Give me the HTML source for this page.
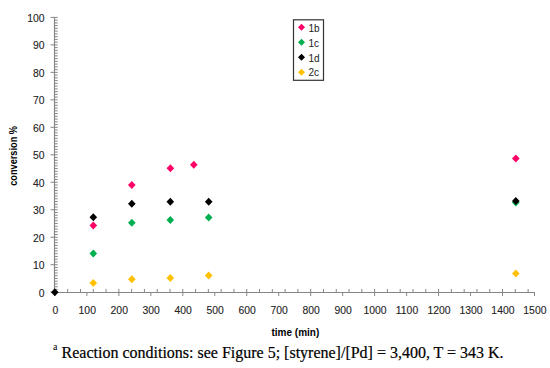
<!DOCTYPE html>
<html><head><meta charset="utf-8"><style>
html,body{margin:0;padding:0;background:#fff;}
body{width:550px;height:368px;overflow:hidden;position:relative;}
svg{position:absolute;left:0;top:0;}
.lab{font-family:"Liberation Sans",sans-serif;font-size:10.4px;fill:#222;stroke:#222;stroke-width:0.1px;}
.ttl{font-family:"Liberation Sans",sans-serif;font-size:10px;font-weight:bold;fill:#000;}
.leg{font-family:"Liberation Sans",sans-serif;font-size:10px;fill:#222;}
.fn{font-family:"Liberation Serif",serif;font-size:16px;fill:#000;stroke:#000;stroke-width:0.2px;}
.sup{font-family:"Liberation Serif",serif;font-size:10px;fill:#000;}
</style></head><body>
<svg width="550" height="368" viewBox="0 0 550 368">
<rect width="550" height="368" fill="#fff"/>
<line x1="54.5" y1="16.9" x2="54.5" y2="292.7" stroke="#868686" stroke-width="1.15"/>
<line x1="54.5" y1="292.5" x2="535.0" y2="292.5" stroke="#868686" stroke-width="1.15"/>
<line x1="54.5" y1="292.20" x2="57.70" y2="292.20" stroke="#868686" stroke-width="1"/>
<line x1="54.5" y1="289.45" x2="57.70" y2="289.45" stroke="#868686" stroke-width="1"/>
<line x1="54.5" y1="286.70" x2="57.70" y2="286.70" stroke="#868686" stroke-width="1"/>
<line x1="54.5" y1="283.96" x2="57.70" y2="283.96" stroke="#868686" stroke-width="1"/>
<line x1="54.5" y1="281.21" x2="57.70" y2="281.21" stroke="#868686" stroke-width="1"/>
<line x1="54.5" y1="278.46" x2="57.70" y2="278.46" stroke="#868686" stroke-width="1"/>
<line x1="54.5" y1="275.71" x2="57.70" y2="275.71" stroke="#868686" stroke-width="1"/>
<line x1="54.5" y1="272.96" x2="57.70" y2="272.96" stroke="#868686" stroke-width="1"/>
<line x1="54.5" y1="270.22" x2="57.70" y2="270.22" stroke="#868686" stroke-width="1"/>
<line x1="54.5" y1="267.47" x2="57.70" y2="267.47" stroke="#868686" stroke-width="1"/>
<line x1="54.5" y1="264.72" x2="57.70" y2="264.72" stroke="#868686" stroke-width="1"/>
<line x1="54.5" y1="261.97" x2="57.70" y2="261.97" stroke="#868686" stroke-width="1"/>
<line x1="54.5" y1="259.22" x2="57.70" y2="259.22" stroke="#868686" stroke-width="1"/>
<line x1="54.5" y1="256.48" x2="57.70" y2="256.48" stroke="#868686" stroke-width="1"/>
<line x1="54.5" y1="253.73" x2="57.70" y2="253.73" stroke="#868686" stroke-width="1"/>
<line x1="54.5" y1="250.98" x2="57.70" y2="250.98" stroke="#868686" stroke-width="1"/>
<line x1="54.5" y1="248.23" x2="57.70" y2="248.23" stroke="#868686" stroke-width="1"/>
<line x1="54.5" y1="245.48" x2="57.70" y2="245.48" stroke="#868686" stroke-width="1"/>
<line x1="54.5" y1="242.74" x2="57.70" y2="242.74" stroke="#868686" stroke-width="1"/>
<line x1="54.5" y1="239.99" x2="57.70" y2="239.99" stroke="#868686" stroke-width="1"/>
<line x1="54.5" y1="237.24" x2="57.70" y2="237.24" stroke="#868686" stroke-width="1"/>
<line x1="54.5" y1="234.49" x2="57.70" y2="234.49" stroke="#868686" stroke-width="1"/>
<line x1="54.5" y1="231.74" x2="57.70" y2="231.74" stroke="#868686" stroke-width="1"/>
<line x1="54.5" y1="229.00" x2="57.70" y2="229.00" stroke="#868686" stroke-width="1"/>
<line x1="54.5" y1="226.25" x2="57.70" y2="226.25" stroke="#868686" stroke-width="1"/>
<line x1="54.5" y1="223.50" x2="57.70" y2="223.50" stroke="#868686" stroke-width="1"/>
<line x1="54.5" y1="220.75" x2="57.70" y2="220.75" stroke="#868686" stroke-width="1"/>
<line x1="54.5" y1="218.00" x2="57.70" y2="218.00" stroke="#868686" stroke-width="1"/>
<line x1="54.5" y1="215.26" x2="57.70" y2="215.26" stroke="#868686" stroke-width="1"/>
<line x1="54.5" y1="212.51" x2="57.70" y2="212.51" stroke="#868686" stroke-width="1"/>
<line x1="54.5" y1="209.76" x2="57.70" y2="209.76" stroke="#868686" stroke-width="1"/>
<line x1="54.5" y1="207.01" x2="57.70" y2="207.01" stroke="#868686" stroke-width="1"/>
<line x1="54.5" y1="204.26" x2="57.70" y2="204.26" stroke="#868686" stroke-width="1"/>
<line x1="54.5" y1="201.52" x2="57.70" y2="201.52" stroke="#868686" stroke-width="1"/>
<line x1="54.5" y1="198.77" x2="57.70" y2="198.77" stroke="#868686" stroke-width="1"/>
<line x1="54.5" y1="196.02" x2="57.70" y2="196.02" stroke="#868686" stroke-width="1"/>
<line x1="54.5" y1="193.27" x2="57.70" y2="193.27" stroke="#868686" stroke-width="1"/>
<line x1="54.5" y1="190.52" x2="57.70" y2="190.52" stroke="#868686" stroke-width="1"/>
<line x1="54.5" y1="187.78" x2="57.70" y2="187.78" stroke="#868686" stroke-width="1"/>
<line x1="54.5" y1="185.03" x2="57.70" y2="185.03" stroke="#868686" stroke-width="1"/>
<line x1="54.5" y1="182.28" x2="57.70" y2="182.28" stroke="#868686" stroke-width="1"/>
<line x1="54.5" y1="179.53" x2="57.70" y2="179.53" stroke="#868686" stroke-width="1"/>
<line x1="54.5" y1="176.78" x2="57.70" y2="176.78" stroke="#868686" stroke-width="1"/>
<line x1="54.5" y1="174.04" x2="57.70" y2="174.04" stroke="#868686" stroke-width="1"/>
<line x1="54.5" y1="171.29" x2="57.70" y2="171.29" stroke="#868686" stroke-width="1"/>
<line x1="54.5" y1="168.54" x2="57.70" y2="168.54" stroke="#868686" stroke-width="1"/>
<line x1="54.5" y1="165.79" x2="57.70" y2="165.79" stroke="#868686" stroke-width="1"/>
<line x1="54.5" y1="163.04" x2="57.70" y2="163.04" stroke="#868686" stroke-width="1"/>
<line x1="54.5" y1="160.30" x2="57.70" y2="160.30" stroke="#868686" stroke-width="1"/>
<line x1="54.5" y1="157.55" x2="57.70" y2="157.55" stroke="#868686" stroke-width="1"/>
<line x1="54.5" y1="154.80" x2="57.70" y2="154.80" stroke="#868686" stroke-width="1"/>
<line x1="54.5" y1="152.05" x2="57.70" y2="152.05" stroke="#868686" stroke-width="1"/>
<line x1="54.5" y1="149.30" x2="57.70" y2="149.30" stroke="#868686" stroke-width="1"/>
<line x1="54.5" y1="146.56" x2="57.70" y2="146.56" stroke="#868686" stroke-width="1"/>
<line x1="54.5" y1="143.81" x2="57.70" y2="143.81" stroke="#868686" stroke-width="1"/>
<line x1="54.5" y1="141.06" x2="57.70" y2="141.06" stroke="#868686" stroke-width="1"/>
<line x1="54.5" y1="138.31" x2="57.70" y2="138.31" stroke="#868686" stroke-width="1"/>
<line x1="54.5" y1="135.56" x2="57.70" y2="135.56" stroke="#868686" stroke-width="1"/>
<line x1="54.5" y1="132.82" x2="57.70" y2="132.82" stroke="#868686" stroke-width="1"/>
<line x1="54.5" y1="130.07" x2="57.70" y2="130.07" stroke="#868686" stroke-width="1"/>
<line x1="54.5" y1="127.32" x2="57.70" y2="127.32" stroke="#868686" stroke-width="1"/>
<line x1="54.5" y1="124.57" x2="57.70" y2="124.57" stroke="#868686" stroke-width="1"/>
<line x1="54.5" y1="121.82" x2="57.70" y2="121.82" stroke="#868686" stroke-width="1"/>
<line x1="54.5" y1="119.08" x2="57.70" y2="119.08" stroke="#868686" stroke-width="1"/>
<line x1="54.5" y1="116.33" x2="57.70" y2="116.33" stroke="#868686" stroke-width="1"/>
<line x1="54.5" y1="113.58" x2="57.70" y2="113.58" stroke="#868686" stroke-width="1"/>
<line x1="54.5" y1="110.83" x2="57.70" y2="110.83" stroke="#868686" stroke-width="1"/>
<line x1="54.5" y1="108.08" x2="57.70" y2="108.08" stroke="#868686" stroke-width="1"/>
<line x1="54.5" y1="105.34" x2="57.70" y2="105.34" stroke="#868686" stroke-width="1"/>
<line x1="54.5" y1="102.59" x2="57.70" y2="102.59" stroke="#868686" stroke-width="1"/>
<line x1="54.5" y1="99.84" x2="57.70" y2="99.84" stroke="#868686" stroke-width="1"/>
<line x1="54.5" y1="97.09" x2="57.70" y2="97.09" stroke="#868686" stroke-width="1"/>
<line x1="54.5" y1="94.34" x2="57.70" y2="94.34" stroke="#868686" stroke-width="1"/>
<line x1="54.5" y1="91.60" x2="57.70" y2="91.60" stroke="#868686" stroke-width="1"/>
<line x1="54.5" y1="88.85" x2="57.70" y2="88.85" stroke="#868686" stroke-width="1"/>
<line x1="54.5" y1="86.10" x2="57.70" y2="86.10" stroke="#868686" stroke-width="1"/>
<line x1="54.5" y1="83.35" x2="57.70" y2="83.35" stroke="#868686" stroke-width="1"/>
<line x1="54.5" y1="80.60" x2="57.70" y2="80.60" stroke="#868686" stroke-width="1"/>
<line x1="54.5" y1="77.86" x2="57.70" y2="77.86" stroke="#868686" stroke-width="1"/>
<line x1="54.5" y1="75.11" x2="57.70" y2="75.11" stroke="#868686" stroke-width="1"/>
<line x1="54.5" y1="72.36" x2="57.70" y2="72.36" stroke="#868686" stroke-width="1"/>
<line x1="54.5" y1="69.61" x2="57.70" y2="69.61" stroke="#868686" stroke-width="1"/>
<line x1="54.5" y1="66.86" x2="57.70" y2="66.86" stroke="#868686" stroke-width="1"/>
<line x1="54.5" y1="64.12" x2="57.70" y2="64.12" stroke="#868686" stroke-width="1"/>
<line x1="54.5" y1="61.37" x2="57.70" y2="61.37" stroke="#868686" stroke-width="1"/>
<line x1="54.5" y1="58.62" x2="57.70" y2="58.62" stroke="#868686" stroke-width="1"/>
<line x1="54.5" y1="55.87" x2="57.70" y2="55.87" stroke="#868686" stroke-width="1"/>
<line x1="54.5" y1="53.12" x2="57.70" y2="53.12" stroke="#868686" stroke-width="1"/>
<line x1="54.5" y1="50.38" x2="57.70" y2="50.38" stroke="#868686" stroke-width="1"/>
<line x1="54.5" y1="47.63" x2="57.70" y2="47.63" stroke="#868686" stroke-width="1"/>
<line x1="54.5" y1="44.88" x2="57.70" y2="44.88" stroke="#868686" stroke-width="1"/>
<line x1="54.5" y1="42.13" x2="57.70" y2="42.13" stroke="#868686" stroke-width="1"/>
<line x1="54.5" y1="39.38" x2="57.70" y2="39.38" stroke="#868686" stroke-width="1"/>
<line x1="54.5" y1="36.64" x2="57.70" y2="36.64" stroke="#868686" stroke-width="1"/>
<line x1="54.5" y1="33.89" x2="57.70" y2="33.89" stroke="#868686" stroke-width="1"/>
<line x1="54.5" y1="31.14" x2="57.70" y2="31.14" stroke="#868686" stroke-width="1"/>
<line x1="54.5" y1="28.39" x2="57.70" y2="28.39" stroke="#868686" stroke-width="1"/>
<line x1="54.5" y1="25.64" x2="57.70" y2="25.64" stroke="#868686" stroke-width="1"/>
<line x1="54.5" y1="22.90" x2="57.70" y2="22.90" stroke="#868686" stroke-width="1"/>
<line x1="54.5" y1="20.15" x2="57.70" y2="20.15" stroke="#868686" stroke-width="1"/>
<line x1="54.5" y1="17.40" x2="57.70" y2="17.40" stroke="#868686" stroke-width="1"/>
<line x1="50.50" y1="292.20" x2="54.5" y2="292.20" stroke="#868686" stroke-width="1"/>
<line x1="50.50" y1="264.72" x2="54.5" y2="264.72" stroke="#868686" stroke-width="1"/>
<line x1="50.50" y1="237.24" x2="54.5" y2="237.24" stroke="#868686" stroke-width="1"/>
<line x1="50.50" y1="209.76" x2="54.5" y2="209.76" stroke="#868686" stroke-width="1"/>
<line x1="50.50" y1="182.28" x2="54.5" y2="182.28" stroke="#868686" stroke-width="1"/>
<line x1="50.50" y1="154.80" x2="54.5" y2="154.80" stroke="#868686" stroke-width="1"/>
<line x1="50.50" y1="127.32" x2="54.5" y2="127.32" stroke="#868686" stroke-width="1"/>
<line x1="50.50" y1="99.84" x2="54.5" y2="99.84" stroke="#868686" stroke-width="1"/>
<line x1="50.50" y1="72.36" x2="54.5" y2="72.36" stroke="#868686" stroke-width="1"/>
<line x1="50.50" y1="44.88" x2="54.5" y2="44.88" stroke="#868686" stroke-width="1"/>
<line x1="50.50" y1="17.40" x2="54.5" y2="17.40" stroke="#868686" stroke-width="1"/>
<line x1="67.69" y1="289.00" x2="67.69" y2="292.2" stroke="#868686" stroke-width="1"/>
<line x1="80.48" y1="289.00" x2="80.48" y2="292.2" stroke="#868686" stroke-width="1"/>
<line x1="93.27" y1="289.00" x2="93.27" y2="292.2" stroke="#868686" stroke-width="1"/>
<line x1="106.06" y1="289.00" x2="106.06" y2="292.2" stroke="#868686" stroke-width="1"/>
<line x1="118.85" y1="289.00" x2="118.85" y2="292.2" stroke="#868686" stroke-width="1"/>
<line x1="131.64" y1="289.00" x2="131.64" y2="292.2" stroke="#868686" stroke-width="1"/>
<line x1="144.43" y1="289.00" x2="144.43" y2="292.2" stroke="#868686" stroke-width="1"/>
<line x1="157.21" y1="289.00" x2="157.21" y2="292.2" stroke="#868686" stroke-width="1"/>
<line x1="170.00" y1="289.00" x2="170.00" y2="292.2" stroke="#868686" stroke-width="1"/>
<line x1="182.79" y1="289.00" x2="182.79" y2="292.2" stroke="#868686" stroke-width="1"/>
<line x1="195.58" y1="289.00" x2="195.58" y2="292.2" stroke="#868686" stroke-width="1"/>
<line x1="208.37" y1="289.00" x2="208.37" y2="292.2" stroke="#868686" stroke-width="1"/>
<line x1="221.16" y1="289.00" x2="221.16" y2="292.2" stroke="#868686" stroke-width="1"/>
<line x1="233.95" y1="289.00" x2="233.95" y2="292.2" stroke="#868686" stroke-width="1"/>
<line x1="246.74" y1="289.00" x2="246.74" y2="292.2" stroke="#868686" stroke-width="1"/>
<line x1="259.53" y1="289.00" x2="259.53" y2="292.2" stroke="#868686" stroke-width="1"/>
<line x1="272.32" y1="289.00" x2="272.32" y2="292.2" stroke="#868686" stroke-width="1"/>
<line x1="285.11" y1="289.00" x2="285.11" y2="292.2" stroke="#868686" stroke-width="1"/>
<line x1="297.90" y1="289.00" x2="297.90" y2="292.2" stroke="#868686" stroke-width="1"/>
<line x1="310.69" y1="289.00" x2="310.69" y2="292.2" stroke="#868686" stroke-width="1"/>
<line x1="323.48" y1="289.00" x2="323.48" y2="292.2" stroke="#868686" stroke-width="1"/>
<line x1="336.27" y1="289.00" x2="336.27" y2="292.2" stroke="#868686" stroke-width="1"/>
<line x1="349.05" y1="289.00" x2="349.05" y2="292.2" stroke="#868686" stroke-width="1"/>
<line x1="361.84" y1="289.00" x2="361.84" y2="292.2" stroke="#868686" stroke-width="1"/>
<line x1="374.63" y1="289.00" x2="374.63" y2="292.2" stroke="#868686" stroke-width="1"/>
<line x1="387.42" y1="289.00" x2="387.42" y2="292.2" stroke="#868686" stroke-width="1"/>
<line x1="400.21" y1="289.00" x2="400.21" y2="292.2" stroke="#868686" stroke-width="1"/>
<line x1="413.00" y1="289.00" x2="413.00" y2="292.2" stroke="#868686" stroke-width="1"/>
<line x1="425.79" y1="289.00" x2="425.79" y2="292.2" stroke="#868686" stroke-width="1"/>
<line x1="438.58" y1="289.00" x2="438.58" y2="292.2" stroke="#868686" stroke-width="1"/>
<line x1="451.37" y1="289.00" x2="451.37" y2="292.2" stroke="#868686" stroke-width="1"/>
<line x1="464.16" y1="289.00" x2="464.16" y2="292.2" stroke="#868686" stroke-width="1"/>
<line x1="476.95" y1="289.00" x2="476.95" y2="292.2" stroke="#868686" stroke-width="1"/>
<line x1="489.74" y1="289.00" x2="489.74" y2="292.2" stroke="#868686" stroke-width="1"/>
<line x1="502.53" y1="289.00" x2="502.53" y2="292.2" stroke="#868686" stroke-width="1"/>
<line x1="515.32" y1="289.00" x2="515.32" y2="292.2" stroke="#868686" stroke-width="1"/>
<line x1="528.11" y1="289.00" x2="528.11" y2="292.2" stroke="#868686" stroke-width="1"/>
<line x1="54.90" y1="292.2" x2="54.90" y2="296.00" stroke="#868686" stroke-width="1"/>
<line x1="86.87" y1="292.2" x2="86.87" y2="296.00" stroke="#868686" stroke-width="1"/>
<line x1="118.85" y1="292.2" x2="118.85" y2="296.00" stroke="#868686" stroke-width="1"/>
<line x1="150.82" y1="292.2" x2="150.82" y2="296.00" stroke="#868686" stroke-width="1"/>
<line x1="182.79" y1="292.2" x2="182.79" y2="296.00" stroke="#868686" stroke-width="1"/>
<line x1="214.77" y1="292.2" x2="214.77" y2="296.00" stroke="#868686" stroke-width="1"/>
<line x1="246.74" y1="292.2" x2="246.74" y2="296.00" stroke="#868686" stroke-width="1"/>
<line x1="278.71" y1="292.2" x2="278.71" y2="296.00" stroke="#868686" stroke-width="1"/>
<line x1="310.69" y1="292.2" x2="310.69" y2="296.00" stroke="#868686" stroke-width="1"/>
<line x1="342.66" y1="292.2" x2="342.66" y2="296.00" stroke="#868686" stroke-width="1"/>
<line x1="374.63" y1="292.2" x2="374.63" y2="296.00" stroke="#868686" stroke-width="1"/>
<line x1="406.61" y1="292.2" x2="406.61" y2="296.00" stroke="#868686" stroke-width="1"/>
<line x1="438.58" y1="292.2" x2="438.58" y2="296.00" stroke="#868686" stroke-width="1"/>
<line x1="470.55" y1="292.2" x2="470.55" y2="296.00" stroke="#868686" stroke-width="1"/>
<line x1="502.53" y1="292.2" x2="502.53" y2="296.00" stroke="#868686" stroke-width="1"/>
<line x1="534.50" y1="292.2" x2="534.50" y2="296.00" stroke="#868686" stroke-width="1"/>
<polygon points="93.30,221.61 97.10,225.60 93.30,229.59 89.50,225.60" fill="#FF0066"/>
<polygon points="131.80,180.91 135.60,184.90 131.80,188.89 128.00,184.90" fill="#FF0066"/>
<polygon points="170.40,164.31 174.20,168.30 170.40,172.29 166.60,168.30" fill="#FF0066"/>
<polygon points="193.80,160.81 197.60,164.80 193.80,168.79 190.00,164.80" fill="#FF0066"/>
<polygon points="515.80,154.51 519.60,158.50 515.80,162.49 512.00,158.50" fill="#FF0066"/>
<polygon points="93.30,249.61 97.10,253.60 93.30,257.59 89.50,253.60" fill="#00B050"/>
<polygon points="131.80,218.81 135.60,222.80 131.80,226.79 128.00,222.80" fill="#00B050"/>
<polygon points="170.30,216.01 174.10,220.00 170.30,223.99 166.50,220.00" fill="#00B050"/>
<polygon points="208.70,213.61 212.50,217.60 208.70,221.59 204.90,217.60" fill="#00B050"/>
<polygon points="515.80,198.61 519.60,202.60 515.80,206.59 512.00,202.60" fill="#00B050"/>
<polygon points="54.80,288.31 58.60,292.30 54.80,296.29 51.00,292.30" fill="#000000"/>
<polygon points="93.30,213.21 97.10,217.20 93.30,221.19 89.50,217.20" fill="#000000"/>
<polygon points="131.80,199.71 135.60,203.70 131.80,207.69 128.00,203.70" fill="#000000"/>
<polygon points="170.30,197.71 174.10,201.70 170.30,205.69 166.50,201.70" fill="#000000"/>
<polygon points="208.70,197.71 212.50,201.70 208.70,205.69 204.90,201.70" fill="#000000"/>
<polygon points="515.80,197.11 519.60,201.10 515.80,205.09 512.00,201.10" fill="#000000"/>
<polygon points="93.30,279.11 97.10,283.10 93.30,287.09 89.50,283.10" fill="#FFC000"/>
<polygon points="131.80,275.31 135.60,279.30 131.80,283.29 128.00,279.30" fill="#FFC000"/>
<polygon points="170.30,273.91 174.10,277.90 170.30,281.89 166.50,277.90" fill="#FFC000"/>
<polygon points="208.70,271.41 212.50,275.40 208.70,279.39 204.90,275.40" fill="#FFC000"/>
<polygon points="515.80,269.61 519.60,273.60 515.80,277.59 512.00,273.60" fill="#FFC000"/>
<rect x="293.5" y="19.8" width="30" height="60.5" fill="#fff" stroke="#333" stroke-width="1.2"/>
<polygon points="301.50,23.80 305.00,27.30 301.50,30.80 298.00,27.30" fill="#FF0066"/>
<text x="308.4" y="31.60" class="leg">1b</text>
<polygon points="301.50,38.75 305.00,42.25 301.50,45.75 298.00,42.25" fill="#00B050"/>
<text x="308.4" y="46.55" class="leg">1c</text>
<polygon points="301.50,53.70 305.00,57.20 301.50,60.70 298.00,57.20" fill="#000000"/>
<text x="308.4" y="61.50" class="leg">1d</text>
<polygon points="301.50,68.65 305.00,72.15 301.50,75.65 298.00,72.15" fill="#FFC000"/>
<text x="308.4" y="76.45" class="leg">2c</text>
<text x="44.6" y="296.60" text-anchor="end" class="lab">0</text>
<text x="44.6" y="269.12" text-anchor="end" class="lab">10</text>
<text x="44.6" y="241.64" text-anchor="end" class="lab">20</text>
<text x="44.6" y="214.16" text-anchor="end" class="lab">30</text>
<text x="44.6" y="186.68" text-anchor="end" class="lab">40</text>
<text x="44.6" y="159.20" text-anchor="end" class="lab">50</text>
<text x="44.6" y="131.72" text-anchor="end" class="lab">60</text>
<text x="44.6" y="104.24" text-anchor="end" class="lab">70</text>
<text x="44.6" y="76.76" text-anchor="end" class="lab">80</text>
<text x="44.6" y="49.28" text-anchor="end" class="lab">90</text>
<text x="44.6" y="21.80" text-anchor="end" class="lab">100</text>
<text x="55.30" y="314.4" text-anchor="middle" class="lab">0</text>
<text x="87.27" y="314.4" text-anchor="middle" class="lab">100</text>
<text x="119.25" y="314.4" text-anchor="middle" class="lab">200</text>
<text x="151.22" y="314.4" text-anchor="middle" class="lab">300</text>
<text x="183.19" y="314.4" text-anchor="middle" class="lab">400</text>
<text x="215.17" y="314.4" text-anchor="middle" class="lab">500</text>
<text x="247.14" y="314.4" text-anchor="middle" class="lab">600</text>
<text x="279.11" y="314.4" text-anchor="middle" class="lab">700</text>
<text x="311.09" y="314.4" text-anchor="middle" class="lab">800</text>
<text x="343.06" y="314.4" text-anchor="middle" class="lab">900</text>
<text x="375.03" y="314.4" text-anchor="middle" class="lab">1000</text>
<text x="407.01" y="314.4" text-anchor="middle" class="lab">1100</text>
<text x="438.98" y="314.4" text-anchor="middle" class="lab">1200</text>
<text x="470.95" y="314.4" text-anchor="middle" class="lab">1300</text>
<text x="502.93" y="314.4" text-anchor="middle" class="lab">1400</text>
<text x="534.90" y="314.4" text-anchor="middle" class="lab">1500</text>
<text x="295.4" y="336.1" text-anchor="middle" class="ttl">time (min)</text>
<text transform="translate(17.3,155.9) rotate(-90) scale(0.92,1)" x="0" y="0" text-anchor="middle" class="ttl">conversion %</text>
<text x="53" y="350.3" class="sup">a</text>
<text x="61.6" y="357.5" class="fn" textLength="442" lengthAdjust="spacing">Reaction conditions: see Figure 5; [styrene]/[Pd] = 3,400, T = 343 K.</text>
</svg>
</body></html>
